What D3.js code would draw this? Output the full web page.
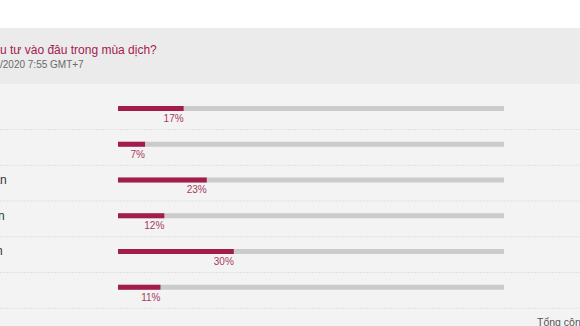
<!DOCTYPE html>
<html>
<head>
<meta charset="utf-8">
<script src="https://cdn.jsdelivr.net/npm/d3@7"></script>
<style>
  html, body { margin: 0; padding: 0; background: #fff; overflow: hidden; }
  svg { display: block; font-family: "Liberation Sans", Arial, sans-serif; }
</style>
</head>
<body>
<div id="chart"></div>
<script>
var width = 580,
    height = 326;

// poll data
var options = ["Vàng", "Ngoại tệ", "Chứng khoán", "Bất động sản", "Nắm giữ tiền", "Khác"];
var percents = [17, 7, 23, 12, 30, 11];

var titleText = "Nhà đầu tư nên đầu tư vào đâu trong mùa dịch?",
    titleCut = "Nhà đầu tư nên đầ",
    dateText = "Cập nhật: 21/04/2020 7:55 GMT+7",
    dateCut = "Cập nhật: 21/04",
    totalText = "Tổng cộng: 1.245 bình chọn";

var mainCol = "#a21d4c",
    trackCol = "#cbcbcb";

var svg = d3.select("#chart").append("svg")
    .attr("width", width)
    .attr("height", height);

// backgrounds
svg.append("rect").attr("x", 0).attr("y", 28).attr("width", width).attr("height", 56).attr("fill", "#ebebeb");
svg.append("rect").attr("x", 0).attr("y", 84).attr("width", width).attr("height", height - 84).attr("fill", "#f3f3f3");

// header texts, shifted so the page looks cropped on the left
function shifted(full, cut, y, size, col) {
  var probe = svg.append("text").attr("font-size", size).text(cut);
  var w = probe.node().getComputedTextLength();
  probe.remove();
  svg.append("text")
      .attr("x", -w)
      .attr("y", y)
      .attr("font-size", size)
      .attr("fill", col)
      .text(full);
}
shifted(titleText, titleCut, 54, 12, "#a3204f");
shifted(dateText, dateCut, 68, 10, "#6a6a6a");

var y = d3.scaleBand()
    .domain(d3.range(options.length))
    .range([93.25, 93.25 + 35.75 * options.length]);

var x = d3.scaleLinear()
    .domain([0, 100])
    .range([118, 504]);

var rows = svg.selectAll("g.row")
    .data(options)
    .enter().append("g")
    .attr("class", "row")
    .attr("transform", function(d, i) { return "translate(0," + y(i) + ")"; });

rows.append("line")
    .attr("x1", 0).attr("x2", width)
    .attr("y1", y.bandwidth() + 0.5).attr("y2", y.bandwidth() + 0.5)
    .attr("stroke", "#e0e0e0")
    .attr("stroke-dasharray", "2,1");

rows.append("text")
    .attr("x", -66)
    .attr("y", 19)
    .attr("font-size", 12)
    .attr("fill", "#333")
    .text(function(d) { return d; });

rows.append("rect")
    .attr("x", x(0))
    .attr("y", 12.75)
    .attr("width", x(100) - x(0))
    .attr("height", 5)
    .attr("fill", trackCol);

rows.append("rect")
    .attr("x", x(0))
    .attr("y", 12.75)
    .attr("width", function(d, i) { return x(percents[i]) - x(0); })
    .attr("height", 5)
    .attr("fill", mainCol);

rows.append("text")
    .attr("x", function(d, i) { return x(percents[i]); })
    .attr("y", 28.5)
    .attr("text-anchor", "end")
    .attr("font-size", 10)
    .attr("fill", "#a83a62")
    .text(function(d, i) { return percents[i] + "%"; });

svg.append("text")
    .attr("x", 537)
    .attr("y", 326)
    .attr("font-size", 10.5)
    .attr("fill", "#555")
    .text(totalText);
</script>
</body>
</html>
